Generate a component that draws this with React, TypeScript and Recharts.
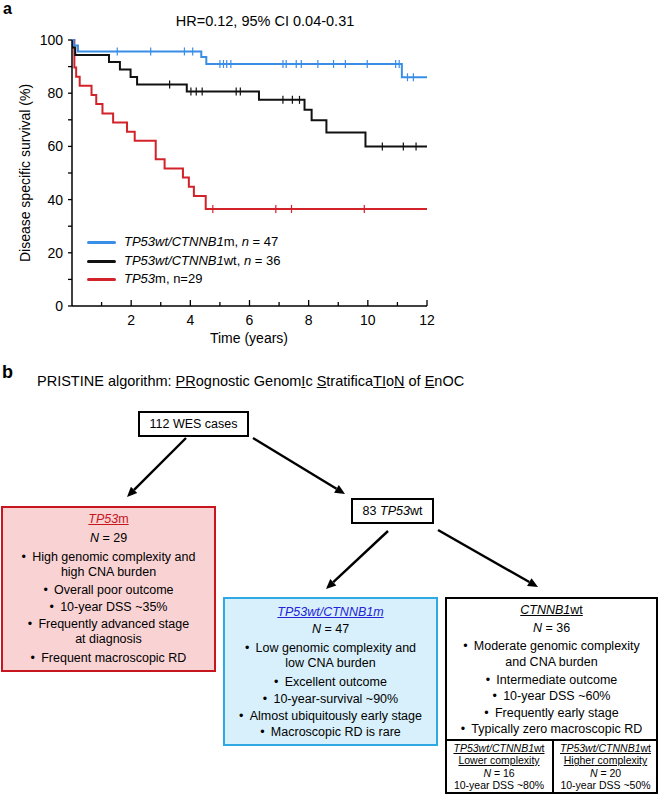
import React from "react";
import { ComposedChart, Line, Scatter, XAxis, YAxis } from "recharts";

const FONT = '"Liberation Sans", Arial, Helvetica, sans-serif';
const BLUE = "#3a8ee6";
const RED = "#d2232a";
const BLACK = "#111";

// Kaplan-Meier steps: time (years) and survival (%)
const blueTimes = [0, 0.06, 0.2, 4.37, 4.54, 11.15];
const blueSurv = [100, 97.9, 95.7, 93.6, 91.0, 86.0];
const blueCensored = [1.53, 2.66, 3.8, 4.08, 5.0, 5.12, 5.23, 5.37, 7.13, 7.24, 7.58, 7.75, 8.31, 8.84, 9.24, 9.98, 10.94, 11.06, 11.34, 11.54];

const blackTimes = [0, 0.04, 0.11, 1.25, 1.62, 1.98, 2.2, 3.88, 6.32, 7.86, 8.1, 8.6, 9.92];
const blackSurv = [100, 97.2, 94.4, 91.7, 88.9, 86.1, 83.3, 80.6, 77.5, 73.8, 69.8, 65.2, 60.0];
const blackCensored = [3.3, 4.02, 4.2, 4.4, 5.55, 5.69, 7.13, 7.45, 7.69, 10.49, 11.2, 11.63];

const redTimes = [0, 0.08, 0.14, 0.26, 0.66, 0.82, 1.03, 1.39, 1.86, 2.12, 2.83, 3.13, 3.75, 3.95, 4.12, 4.52];
const redSurv = [100, 89.7, 86.2, 82.8, 79.3, 75.9, 72.4, 69.0, 65.5, 62.1, 55.2, 51.7, 48.3, 44.8, 41.4, 36.5];
const redCensored = [4.76, 6.89, 7.42, 9.88];

const xTicks = [0, 1, 2, 3, 4, 5, 6, 7, 8, 9, 10, 11, 12];
const yTicks = [0, 10, 20, 30, 40, 50, 60, 70, 80, 90, 100];

const steps = (times: number[], surv: number[]) => [
  ...times.map((t, i) => ({ t, v: surv[i] })),
  { t: 12, v: surv[surv.length - 1] },
];

// survival level of the curve at a censoring time
const levelAt = (times: number[], surv: number[], t: number) => {
  let v = surv[0];
  times.forEach((tt, i) => {
    if (tt <= t) v = surv[i];
  });
  return v;
};
const marks = (times: number[], surv: number[], cens: number[]) =>
  cens.map((t) => ({ t, v: levelAt(times, surv, t) }));

const blueLine = steps(blueTimes, blueSurv);
const blackLine = steps(blackTimes, blackSurv);
const redLine = steps(redTimes, redSurv);
const blueMarks = marks(blueTimes, blueSurv, blueCensored);
const blackMarks = marks(blackTimes, blackSurv, blackCensored);
const redMarks = marks(redTimes, redSurv, redCensored);

const XTick = ({ x, y, payload }: any) => {
  const v = payload.value;
  return (
    <g>
      {v > 0 && (
        <line x1={x} x2={x} y1={y} y2={y - (v % 2 === 0 ? 6 : 4)} stroke="#000" strokeWidth={1.3} />
      )}
      {v > 0 && v % 2 === 0 && (
        <text x={x} y={y + 19} textAnchor="middle" fontSize={14} fill="#000" fontFamily={FONT}>
          {v}
        </text>
      )}
    </g>
  );
};

const YTick = ({ x, y, payload }: any) => {
  const v = payload.value;
  return (
    <g>
      <line x1={x} x2={x - 4} y1={y} y2={y} stroke="#000" strokeWidth={1.3} />
      {v % 20 === 0 && (
        <text x={x - 9} y={y + 5} textAnchor="end" fontSize={14} fill="#000" fontFamily={FONT}>
          {v}
        </text>
      )}
    </g>
  );
};

const censorShape = (color: string) => (p: any) => (
  <line x1={p.cx} x2={p.cx} y1={p.cy - 4} y2={p.cy + 4} stroke={color} strokeWidth={1.2} />
);

const abs = (left: number, top: number, extra: React.CSSProperties = {}): React.CSSProperties => ({
  position: "absolute",
  left,
  top,
  ...extra,
});

const legendItems = [
  { color: BLUE, y: 242, label: <><i>TP53wt/CTNNB1</i>m, <i>n</i> = 47</> },
  { color: BLACK, y: 261, label: <><i>TP53wt/CTNNB1</i>wt, <i>n</i> = 36</> },
  { color: RED, y: 279, label: <><i>TP53</i>m, n=29</> },
];

type TextLine = { y: number; node: React.ReactNode; size?: number };

function Lines({ left, width, lines }: { left: number; width: number; lines: TextLine[] }) {
  return (
    <>
      {lines.map((l, i) => (
        <div
          key={i}
          style={abs(left, l.y - 8, {
            width,
            height: 16,
            lineHeight: "16px",
            textAlign: "center",
            fontSize: l.size ?? 12.5,
            whiteSpace: "nowrap",
          })}
        >
          {l.node}
        </div>
      ))}
    </>
  );
}

const B = "\u2022\u2002";

const redLines: TextLine[] = [
  { y: 519, node: <span style={{ color: "#c8161e", textDecoration: "underline" }}><i>TP53</i>m</span> },
  { y: 538, node: <><i>N</i> = 29</> },
  { y: 557, node: B + "High genomic complexity and" },
  { y: 572, node: "high CNA burden" },
  { y: 590, node: B + "Overall poor outcome" },
  { y: 607, node: B + "10-year DSS ~35%" },
  { y: 624, node: B + "Frequently advanced stage" },
  { y: 639, node: "at diagnosis" },
  { y: 658, node: B + "Frequent macroscopic RD" },
];

const blueLines: TextLine[] = [
  { y: 612, node: <span style={{ color: "#2323d8", textDecoration: "underline" }}><i>TP53wt/CTNNB1m</i></span> },
  { y: 629, node: <><i>N</i> = 47</> },
  { y: 648, node: B + "Low genomic complexity and" },
  { y: 663, node: "low CNA burden" },
  { y: 682, node: B + "Excellent outcome" },
  { y: 699, node: B + "10-year-survival ~90%" },
  { y: 716, node: B + "Almost ubiquitously early stage" },
  { y: 732, node: B + "Macroscopic RD is rare" },
];

const blackLines: TextLine[] = [
  { y: 610, node: <span style={{ textDecoration: "underline" }}><i>CTNNB1</i>wt</span> },
  { y: 628, node: <><i>N</i> = 36</> },
  { y: 646, node: B + "Moderate genomic complexity" },
  { y: 662, node: "and CNA burden" },
  { y: 680, node: B + "Intermediate outcome" },
  { y: 696, node: B + "10-year DSS ~60%" },
  { y: 713, node: B + "Frequently early stage" },
  { y: 729, node: B + "Typically zero macroscopic RD" },
];

const subLines = (kind: string, n: number, dss: number): TextLine[] => [
  { y: 748, size: 10.5, node: <span style={{ textDecoration: "underline" }}><i>TP53wt/CTNNB1</i>wt</span> },
  { y: 760, size: 10.5, node: <span style={{ textDecoration: "underline" }}>{kind} complexity</span> },
  { y: 773, size: 10.5, node: <><i>N</i> = {n}</> },
  { y: 785, size: 10.5, node: <>10-year DSS ~{dss}%</> },
];

const arrows = [
  [186, 438, 127, 497],
  [253, 438, 345, 494],
  [388, 531, 326, 589],
  [438, 530, 538, 587],
];

function Arrow({ a }: { a: number[] }) {
  const [x1, y1, x2, y2] = a;
  const dx = x2 - x1;
  const dy = y2 - y1;
  const len = Math.hypot(dx, dy);
  const ux = dx / len;
  const uy = dy / len;
  const hl = 10;
  const hw = 4.5;
  const bx = x2 - ux * hl;
  const by = y2 - uy * hl;
  return (
    <g>
      <line x1={x1} y1={y1} x2={bx} y2={by} stroke="#000" strokeWidth={2.4} />
      <polygon
        points={`${x2},${y2} ${bx - uy * hw},${by + ux * hw} ${bx + uy * hw},${by - ux * hw}`}
        fill="#000"
      />
    </g>
  );
}

const Underl = ({ children }: { children: React.ReactNode }) => (
  <span style={{ textDecoration: "underline" }}>{children}</span>
);

export default function App() {
  return (
    <div
      style={{
        position: "absolute",
        left: 0,
        top: 0,
        width: 661,
        height: 809,
        background: "#fff",
        fontFamily: FONT,
        color: "#000",
        overflow: "hidden",
      }}
    >
      {/* panel a */}
      <div style={abs(3, 1, { fontSize: 16, lineHeight: "16px", fontWeight: "bold" })}>a</div>
      <div style={abs(265 - 120, 13, { width: 240, textAlign: "center", fontSize: 14.5 })}>
        HR=0.12, 95% CI 0.04-0.31
      </div>
      <div
        style={abs(25 - 110, 173 - 9, {
          width: 220,
          height: 18,
          lineHeight: "18px",
          textAlign: "center",
          fontSize: 14,
          transform: "rotate(-90deg)",
        })}
      >
        Disease specific survival (%)
      </div>
      <div style={abs(0, 0)}>
        <ComposedChart width={661} height={350} margin={{ top: 40, right: 234, bottom: 0, left: 0 }}>
          <XAxis
            type="number"
            dataKey="t"
            domain={[0, 12]}
            ticks={xTicks}
            interval={0}
            tickLine={false}
            tickSize={0}
            tickMargin={0}
            height={44}
            axisLine={{ stroke: "#000", strokeWidth: 1.5 }}
            tick={XTick}
          />
          <YAxis
            type="number"
            domain={[0, 100]}
            ticks={yTicks}
            interval={0}
            tickLine={false}
            tickSize={0}
            tickMargin={0}
            width={72}
            axisLine={{ stroke: "#000", strokeWidth: 1.5 }}
            tick={YTick}
          />
          <Line data={redLine} dataKey="v" type="stepAfter" stroke={RED} strokeWidth={2} dot={false} isAnimationActive={false} />
          <Line data={blackLine} dataKey="v" type="stepAfter" stroke={BLACK} strokeWidth={2} dot={false} isAnimationActive={false} />
          <Line data={blueLine} dataKey="v" type="stepAfter" stroke={BLUE} strokeWidth={2} dot={false} isAnimationActive={false} />
          <Scatter data={redMarks} dataKey="v" shape={censorShape(RED)} isAnimationActive={false} />
          <Scatter data={blackMarks} dataKey="v" shape={censorShape(BLACK)} isAnimationActive={false} />
          <Scatter data={blueMarks} dataKey="v" shape={censorShape(BLUE)} isAnimationActive={false} />
        </ComposedChart>
      </div>
      {legendItems.map((it, i) => (
        <div key={i}>
          <div style={abs(87, it.y - 1.5, { width: 29, height: 3, borderRadius: 1.5, background: it.color })} />
          <div style={abs(124, it.y - 9, { height: 18, lineHeight: "18px", fontSize: 13, whiteSpace: "nowrap" })}>
            {it.label}
          </div>
        </div>
      ))}
      <div style={abs(249 - 60, 330, { width: 120, textAlign: "center", fontSize: 14 })}>Time (years)</div>

      {/* panel b */}
      <div style={abs(2, 362, { fontSize: 18, fontWeight: "bold" })}>b</div>
      <div style={abs(37, 373, { fontSize: 14.5, whiteSpace: "nowrap" })}>
        PRISTINE algorithm: <Underl>PR</Underl>ognostic Genom<Underl>I</Underl>c <Underl>S</Underl>tratifica
        <Underl>TI</Underl>o<Underl>N</Underl> of <Underl>E</Underl>nOC
      </div>

      <div
        style={abs(138, 411, {
          width: 111,
          height: 26,
          border: "2px solid #000",
          boxSizing: "border-box",
          textAlign: "center",
          lineHeight: "22px",
          fontSize: 12.5,
        })}
      >
        112 WES cases
      </div>
      <div
        style={abs(351, 498, {
          width: 83,
          height: 26,
          border: "2px solid #000",
          boxSizing: "border-box",
          textAlign: "center",
          lineHeight: "22px",
          fontSize: 12.5,
        })}
      >
        83 <i>TP53</i>wt
      </div>

      <div
        style={abs(1, 506, {
          width: 215,
          height: 166,
          border: "2px solid #c8161e",
          background: "#f9d3d4",
          boxSizing: "border-box",
        })}
      />
      <Lines left={1} width={215} lines={redLines} />

      <div
        style={abs(223, 597, {
          width: 215,
          height: 149,
          border: "2px solid #2ea9e3",
          background: "#d8f0fb",
          boxSizing: "border-box",
        })}
      />
      <Lines left={223} width={215} lines={blueLines} />

      <div
        style={abs(445, 597, {
          width: 213,
          height: 197,
          border: "2px solid #000",
          boxSizing: "border-box",
        })}
      />
      <div style={abs(445, 739, { width: 213, height: 1.5, background: "#000" })} />
      <div style={abs(552, 739, { width: 1.5, height: 54, background: "#000" })} />
      <Lines left={445} width={213} lines={blackLines} />
      <Lines left={445} width={108} lines={subLines("Lower", 16, 80)} />
      <Lines left={553} width={105} lines={subLines("Higher", 20, 50)} />

      <svg width={661} height={809} style={abs(0, 0, { pointerEvents: "none" })}>
        {arrows.map((a, i) => (
          <Arrow key={i} a={a} />
        ))}
      </svg>
    </div>
  );
}
